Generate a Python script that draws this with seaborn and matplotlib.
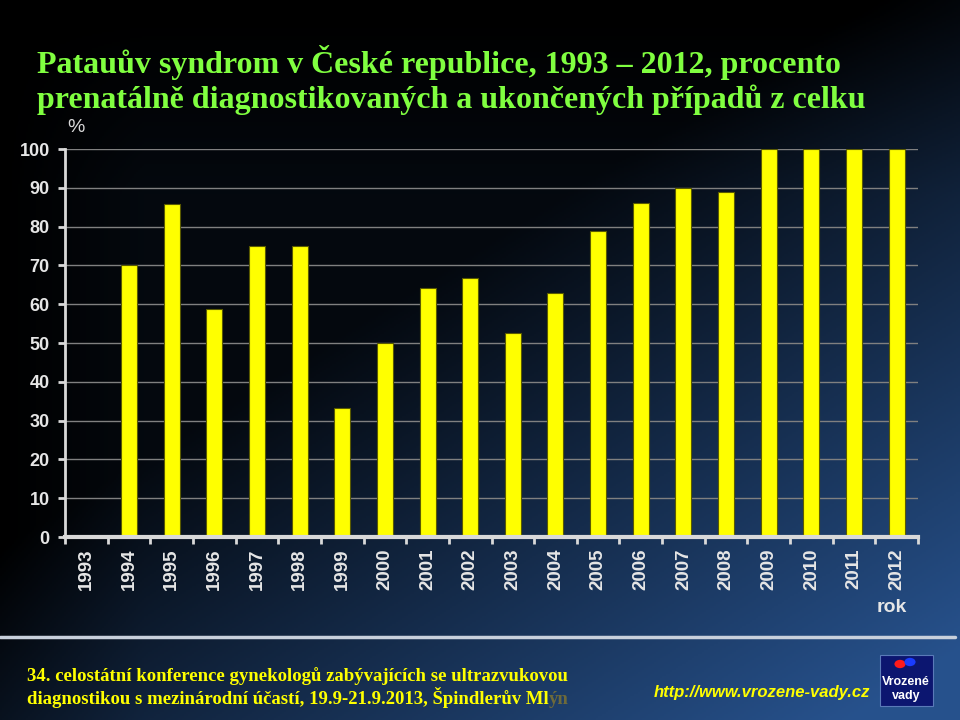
import numpy as np
import pandas as pd
import matplotlib
matplotlib.use("Agg")
import matplotlib.pyplot as plt
import seaborn as sns
from matplotlib.patches import Rectangle, Circle
from matplotlib.lines import Line2D

years = [str(y) for y in range(1993, 2013)]
values = [0, 70.0, 85.7, 58.8, 75.0, 75.0, 33.3, 50.0, 64.3, 66.7,
          52.6, 63.0, 78.9, 86.0, 90.0, 88.9, 100, 100, 100, 100]
yticks = list(range(0, 101, 10))

title1 = "Patauův syndrom v České republice, 1993 – 2012, procento"
title2 = "prenatálně diagnostikovaných a ukončených případů z celku"
foot1 = "34. celostátní konference gynekologů zabývajících se ultrazvukovou"
foot2 = "diagnostikou s mezinárodní účastí, 19.9-21.9.2013, Špindlerův Ml"
foot2_tail = "ýn"
url = "http://www.vrozene-vady.cz"

sns.set_theme(style="dark")
plt.rcParams['font.family'] = ['Liberation Sans', 'DejaVu Sans']

fig = plt.figure(figsize=(9.6, 7.2), dpi=100)

# background gradient
W, H = 480, 360
xx, yy = np.meshgrid(np.linspace(0, 1, W), np.linspace(0, 1, H))
f = np.clip(0.96 * xx + 1.15 * yy - 0.876, 0, None)
f = f + 0.13 * np.clip(xx / 0.15, 0, 1) * np.clip((yy - 0.02) / 0.25, 0, 1)
f = np.clip(f, 0, 1.25)
base = np.array([31, 65, 112]) / 255.0
img = np.clip(f[..., None] * base[None, None, :], 0, 1)
bg = fig.add_axes([0, 0, 1, 1], zorder=-10)
bg.imshow(img, aspect='auto', extent=[0, 1, 0, 1], origin='upper')
bg.set_xlim(0, 1)
bg.set_ylim(0, 1)
bg.axis('off')

ax = fig.add_axes([65 / 960, 1 - 537 / 720, (918 - 65) / 960, (537 - 149) / 720])
ax.set_facecolor('none')
df = pd.DataFrame({"rok": years, "procento": values})
sns.barplot(data=df, x="rok", y="procento", color="#ffff00", saturation=1,
            width=0.375, edgecolor="#5a5a00", linewidth=0.8, ax=ax)
ax.set_ylim(0, 100)
ax.set_xlim(-0.5, len(years) - 0.5)
ax.set_yticks(yticks)
ax.set_yticklabels([str(t) for t in yticks], fontsize=13, fontweight='bold', color='#e6e6e6')
ax.set_xticks(range(len(years)))
ax.set_xticklabels(years, rotation=90, fontsize=13.5, fontweight='bold', color='#e6e6e6')
ax.set_xticks(np.arange(-0.5, len(years), 1), minor=True)
ax.tick_params(axis='x', which='major', length=0, pad=8)
ax.tick_params(axis='x', which='minor', length=5, width=2, color='#d9d9d9', direction='out', bottom=True)
ax.tick_params(axis='y', length=5, width=2, color='#d9d9d9', direction='out', pad=6, left=True)
ax.set_xlabel("")
ax.set_ylabel("")
ax.set_axisbelow(True)
ax.yaxis.grid(True, color='#808080', lw=1)
ax.xaxis.grid(False)
for s in ['top', 'right']:
    ax.spines[s].set_visible(False)
ax.spines['left'].set_color('#d9d9d9')
ax.spines['left'].set_linewidth(2)
ax.spines['bottom'].set_color('#d9d9d9')
ax.spines['bottom'].set_linewidth(3)

# titles
tfont = dict(family=['Liberation Serif', 'DejaVu Serif'], fontweight='bold', color='#80ff40', fontsize=23)
fig.text(37 / 960, 1 - 62 / 720, title1, va='center', ha='left', **tfont)
fig.text(37 / 960, 1 - 100 / 720, title2, va='center', ha='left', **tfont)

fig.text(76 / 960, 1 - 128 / 720, "%", ha='center', va='center', fontsize=14, color='#d9d9d9')
fig.text(892 / 960, 1 - 608 / 720, "rok", ha='center', va='center', fontsize=14,
         fontweight='bold', color='#e6e6e6')

# separator line
fig.add_artist(Line2D([0, 955 / 960], [1 - 637 / 720] * 2, color='#c8d0dc', lw=2.5,
                      transform=fig.transFigure))

# footer
ffont = dict(family=['Liberation Serif', 'DejaVu Serif'], fontweight='bold', color='#ffff00', fontsize=13.5)
fig.text(27 / 960, 1 - 676 / 720, foot1, va='center', ha='left', **ffont)
t2 = fig.text(27 / 960, 1 - 698 / 720, foot2, va='center', ha='left', **ffont)
bg.annotate(foot2_tail, xy=(1, 0), xycoords=t2, va='bottom', ha='left',
            family=['Liberation Serif', 'DejaVu Serif'], fontweight='bold',
            color='#6e6a3a', fontsize=13.5)

fig.text(870 / 960, 1 - 693 / 720, url, ha='right', va='center', fontsize=12,
         fontweight='bold', style='italic', color='#ffff00')

# logo
fig.add_artist(Rectangle((880 / 960, 1 - 706 / 720), 53 / 960, 51 / 720,
                         transform=fig.transFigure, facecolor='#0c1670',
                         edgecolor='#5a7ab8', lw=0.8))
fig.add_artist(Circle((900 / 960, 1 - 664 / 720), 0.0058, transform=fig.transFigure,
                      facecolor='#ff1a1a', edgecolor='none'))
fig.add_artist(Circle((910 / 960, 1 - 662 / 720), 0.0058, transform=fig.transFigure,
                      facecolor='#1a3cff', edgecolor='none'))
fig.text(906 / 960, 1 - 682 / 720, "Vrozené", ha='center', va='center', fontsize=9,
         fontweight='bold', color='white')
fig.text(906 / 960, 1 - 696 / 720, "vady", ha='center', va='center', fontsize=9,
         fontweight='bold', color='white')

fig.savefig("out.png", dpi=100)
